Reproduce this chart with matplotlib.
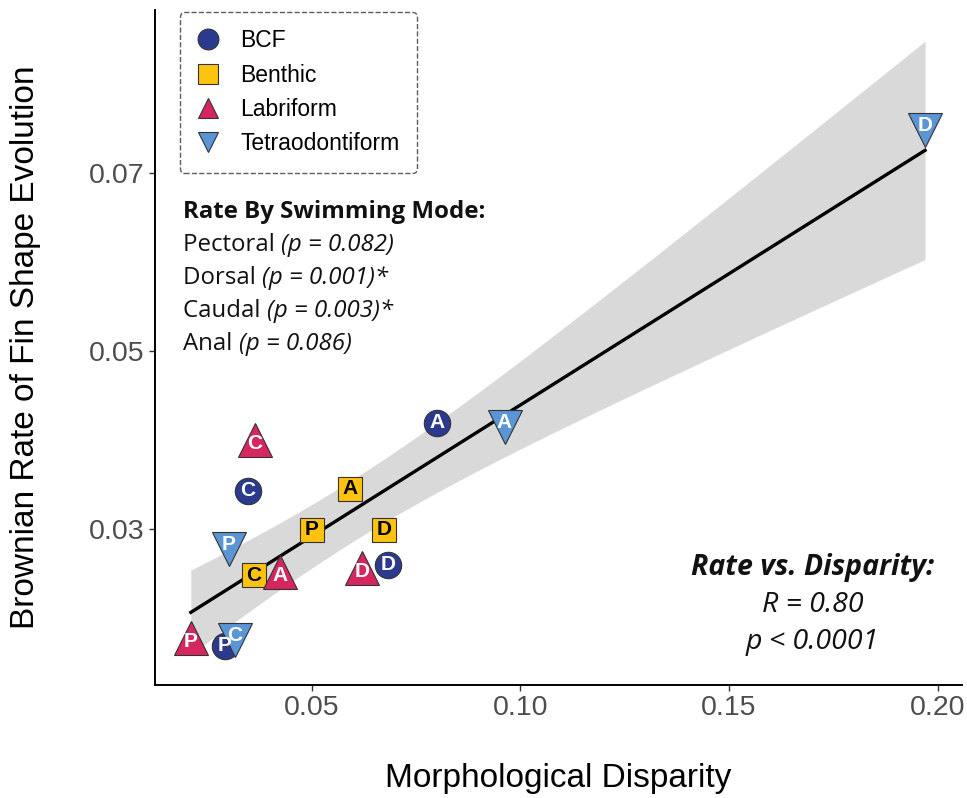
import numpy as np
import matplotlib
matplotlib.use("Agg")
import matplotlib.pyplot as plt
from matplotlib.lines import Line2D

# data: disparity (x) and Brownian rate (y) per swimming mode, per fin
modes = ["BCF", "Benthic", "Labriform", "Tetraodontiform"]
fins = ["P", "D", "C", "A"]
bcf_x = [0.0291, 0.0682, 0.0347, 0.0800]
bcf_y = [0.0169, 0.0260, 0.0343, 0.0419]
benthic_x = [0.0500, 0.0673, 0.0361, 0.0591]
benthic_y = [0.0299, 0.0299, 0.0248, 0.0345]
labri_x = [0.0210, 0.0620, 0.0363, 0.0423]
labri_y = [0.0178, 0.0256, 0.0400, 0.0252]
tetra_x = [0.0301, 0.1970, 0.0315, 0.0962]
tetra_y = [0.0278, 0.0748, 0.0175, 0.0415]

xs = [bcf_x, benthic_x, labri_x, tetra_x]
ys = [bcf_y, benthic_y, labri_y, tetra_y]
markers = ["o", "s", "^", "v"]
colors = ["#2B3A8F", "#FDC30F", "#D6265F", "#5A95D6"]
sizes = [19, 17, 24, 24]
text_cols = ["white", "black", "white", "white"]

fig = plt.figure(figsize=(9.67, 7.98), dpi=100)
ax = fig.add_axes([0.160, 0.1416, 0.835, 0.846])

# regression + 95% CI
allx = np.concatenate(xs)
ally = np.concatenate(ys)
n = len(allx)
b1, b0 = np.polyfit(allx, ally, 1)
resid = ally - (b0 + b1 * allx)
s = np.sqrt(np.sum(resid ** 2) / (n - 2))
xm = allx.mean()
sxx = np.sum((allx - xm) ** 2)
xx = np.linspace(allx.min(), allx.max(), 200)
fit = b0 + b1 * xx
se = s * np.sqrt(1 / n + (xx - xm) ** 2 / sxx)
tval = 2.145
ax.fill_between(xx, fit - tval * se, fit + tval * se, color="#D9D9D9", lw=0, zorder=1)
ax.plot(xx, fit, color="black", lw=2.4, zorder=2)

for i in range(4):
    for j in range(4):
        ax.plot(xs[i][j], ys[i][j], marker=markers[i], ms=sizes[i], color=colors[i],
                mec="#333333", mew=0.8, ls="none", zorder=3 + i)
for i in range(4):
    for j in range(4):
        dy = 0
        if markers[i] == "v":
            dy = 0.0005
        elif markers[i] == "^":
            dy = -0.0004
        ax.text(xs[i][j], ys[i][j] + dy, fins[j], ha="center", va="center",
                color=text_cols[i], fontsize=15, fontweight="bold",
                family="Liberation Sans", zorder=10)

ax.set_xlim(0.01235, 0.2059)
ax.set_ylim(0.01247, 0.0883)
ax.set_xticks([0.05, 0.10, 0.15, 0.20])
ax.set_xticklabels(["0.05", "0.10", "0.15", "0.20"])
ax.set_yticks([0.03, 0.05, 0.07])
ax.set_yticklabels(["0.03", "0.05", "0.07"])
for sp in ["top", "right"]:
    ax.spines[sp].set_visible(False)
for sp in ["left", "bottom"]:
    ax.spines[sp].set_linewidth(1.4)
ax.tick_params(length=4, width=1, color="#333333", labelcolor="#4D4D4D", labelsize=20.5)
for lab in ax.get_xticklabels() + ax.get_yticklabels():
    lab.set_family("Liberation Sans")
ax.set_xlabel("Morphological Disparity", fontsize=24, family="Liberation Sans", labelpad=30)
ax.set_ylabel("Brownian Rate of Fin Shape Evolution", fontsize=24, family="Liberation Sans", labelpad=34)

handles = [Line2D([], [], marker=markers[i], color=colors[i], mec="#333333", mew=0.8,
                  ls="none", ms=15) for i in range(4)]
leg = ax.legend(handles, modes, loc="upper left", bbox_to_anchor=(0.031, 0.997),
                borderaxespad=0, frameon=True, fancybox=True,
                prop={"family": "Liberation Sans", "size": 16.5}, handletextpad=0.9,
                labelspacing=0.5, borderpad=0.75, handlelength=1.0)
fr = leg.get_frame()
fr.set_linestyle("--")
fr.set_edgecolor("#333333")
fr.set_linewidth(1.0)

# left annotation block
ff = "Open Sans"
fs = 17.3
y0 = 0.692
ax.text(0.035, y0, "Rate By Swimming Mode:", transform=ax.transAxes, fontsize=fs,
        fontweight="bold", family=ff, va="baseline", color="#111111")
rows = [("Pectoral", "(p = 0.082)"), ("Dorsal", "(p = 0.001)*"),
        ("Caudal", "(p = 0.003)*"), ("Anal", "(p = 0.086)")]
fig.canvas.draw()
rend = fig.canvas.get_renderer()
for k, (a, b) in enumerate(rows):
    yy = y0 - 0.0488 * (k + 1)
    t = ax.text(0.035, yy, a + " ", transform=ax.transAxes, fontsize=fs, family=ff,
                va="baseline", color="#111111")
    bb = t.get_window_extent(renderer=rend)
    x1 = ax.transAxes.inverted().transform((bb.x1, bb.y0))[0]
    ax.text(x1, yy, b, transform=ax.transAxes, fontsize=fs, family=ff,
            style="italic", va="baseline", color="#111111")

# right annotation
cx = 0.815
ax.text(cx, 0.163, "Rate vs. Disparity:", transform=ax.transAxes, fontsize=20.5,
        fontweight="bold", style="italic", family=ff, ha="center", va="baseline", color="#111111")
ax.text(cx, 0.108, "R = 0.80", transform=ax.transAxes, fontsize=20.5,
        style="italic", family=ff, ha="center", va="baseline", color="#111111")
ax.text(cx, 0.053, "p < 0.0001", transform=ax.transAxes, fontsize=20.5,
        style="italic", family=ff, ha="center", va="baseline", color="#111111")

fig.savefig("out.png", dpi=100)
